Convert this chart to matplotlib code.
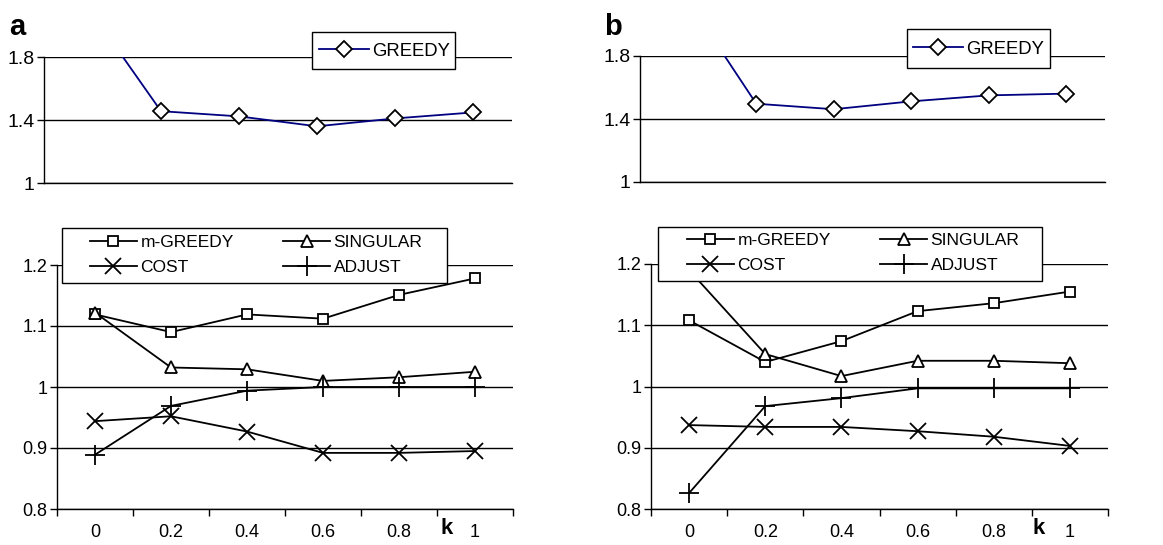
import matplotlib.pyplot as plt
from matplotlib.patches import Rectangle

plt.rcParams["font.family"] = ["Liberation Sans", "DejaVu Sans"]

k_labels = ["0", "0.2", "0.4", "0.6", "0.8", "1"]

# panel a
greedy_a = [2.16, 1.456, 1.423, 1.36, 1.41, 1.448]
mgreedy_a = [1.119, 1.090, 1.119, 1.112, 1.151, 1.178]
singular_a = [1.122, 1.032, 1.029, 1.010, 1.016, 1.025]
cost_a = [0.944, 0.952, 0.927, 0.892, 0.892, 0.895]
adjust_a = [0.889, 0.969, 0.994, 1.0, 1.0, 1.0]

# panel b
greedy_b = [2.24, 1.497, 1.462, 1.512, 1.550, 1.561]
mgreedy_b = [1.108, 1.040, 1.074, 1.123, 1.136, 1.155]
singular_b = [1.19, 1.053, 1.017, 1.042, 1.042, 1.038]
cost_b = [0.937, 0.934, 0.934, 0.927, 0.918, 0.903]
adjust_b = [0.826, 0.968, 0.981, 0.997, 0.997, 0.997]

W, H = 1163, 545
fig = plt.figure(figsize=(W / 100, H / 100), dpi=100)


def px_axes(left, top, right, bottom):
    return fig.add_axes([left / W, 1 - bottom / H, (right - left) / W, (bottom - top) / H])


def legend_frame(left, top, right, bottom):
    # white box with black edge, drawn above the plot lines
    rect = Rectangle((left / W, 1 - bottom / H), (right - left) / W, (bottom - top) / H,
                     transform=fig.transFigure, facecolor="white", edgecolor="black",
                     linewidth=1, zorder=5)
    fig.add_artist(rect)


def style_axes(ax, ylim, yticks, ylabels, size):
    x = list(range(len(k_labels)))
    ax.set_xlim(-0.5, len(x) - 0.5)
    ax.set_ylim(*ylim)
    ax.set_yticks(yticks)
    ax.set_yticklabels(ylabels)
    ax.tick_params(axis="y", direction="out", length=5, width=1, labelsize=size, pad=2)
    for s in ["top", "right"]:
        ax.spines[s].set_visible(False)
    for s in ["left", "bottom"]:
        ax.spines[s].set_linewidth(1)
    ax.grid(axis="y", color="black", linewidth=1)
    ax.set_axisbelow(True)
    return x


def draw_top(ax, greedy, box, anchor):
    x = style_axes(ax, (1, 1.8), [1, 1.4, 1.8], ["1", "1.4", "1.8"], 14)
    ax.set_xticks([])
    line, = ax.plot(x, greedy, color="#000080", linewidth=1.3, marker="D", markersize=8,
                    markerfacecolor="white", markeredgecolor="black", markeredgewidth=1.3)
    legend_frame(*box)
    leg = fig.legend([line], ["GREEDY"], loc="center left",
                     bbox_to_anchor=(anchor[0] / W, 1 - anchor[1] / H),
                     fontsize=13.3, frameon=False, handlelength=2.7, handletextpad=0.15,
                     borderpad=0, borderaxespad=0)
    leg.set_zorder(6)


def draw_bottom(ax, mg, sg, co, ad, box, anchor, k_pos):
    x = style_axes(ax, (0.8, 1.2), [0.8, 0.9, 1, 1.1, 1.2], ["0.8", "0.9", "1", "1.1", "1.2"], 13)
    ax.set_xticks([i - 0.5 for i in range(len(x) + 1)])
    ax.set_xticklabels([])
    ax.set_xticks(x, minor=True)
    ax.set_xticklabels(k_labels, minor=True)
    ax.tick_params(axis="x", which="major", direction="out", length=5, width=1)
    ax.tick_params(axis="x", which="minor", length=0, labelsize=13, pad=11)
    kw = dict(color="black", linewidth=1.3, markerfacecolor="white",
              markeredgecolor="black", markeredgewidth=1.3)
    l1, = ax.plot(x, mg, marker="s", markersize=7, **kw)
    l2, = ax.plot(x, sg, marker="^", markersize=9, **kw)
    l3, = ax.plot(x, co, marker="x", markersize=11, **kw)
    l4, = ax.plot(x, ad, marker="+", markersize=15, **kw)
    legend_frame(*box)
    leg = fig.legend([l1, l3, l2, l4], ["m-GREEDY", "COST", "SINGULAR", "ADJUST"], ncol=2,
                     loc="center left", bbox_to_anchor=(anchor[0] / W, 1 - anchor[1] / H),
                     fontsize=12.5, frameon=False, handlelength=2.7, handletextpad=0.2,
                     columnspacing=2.85, labelspacing=0.58, borderpad=0, borderaxespad=0)
    leg.set_zorder(6)
    fig.text(k_pos / W, 1 - 529 / H, "k", fontsize=16, fontweight="bold", ha="center", va="center")


ax_ta = px_axes(44, 57, 512, 183)
draw_top(ax_ta, greedy_a, (312, 32, 455, 69), (319, 51))
ax_ba = px_axes(57, 265, 513, 509)
draw_bottom(ax_ba, mgreedy_a, singular_a, cost_a, adjust_a, (62, 228, 447, 283), (90, 255), 447)

ax_tb = px_axes(640, 56, 1105, 182)
draw_top(ax_tb, greedy_b, (907, 29, 1050, 68), (913, 49))
ax_bb = px_axes(651, 264, 1108, 509)
draw_bottom(ax_bb, mgreedy_b, singular_b, cost_b, adjust_b, (658, 227, 1042, 281), (687, 253), 1039)

fig.text(17 / W, 1 - 27 / H, "a", fontsize=21, fontweight="bold", ha="center", va="center")
fig.text(613 / W, 1 - 27 / H, "b", fontsize=21, fontweight="bold", ha="center", va="center")

fig.savefig("out.png", dpi=100)
